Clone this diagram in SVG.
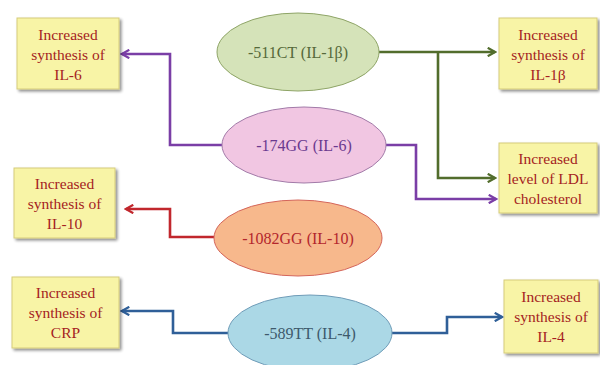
<svg xmlns="http://www.w3.org/2000/svg" width="600" height="365" viewBox="0 0 600 365">
<defs>
<style>
.box{fill:#f8f4a6;stroke:#d6cc7a;stroke-width:1}
.bt{font-family:'Liberation Serif','Times New Roman','DejaVu Serif',serif;font-size:15.5px;fill:#a51d22;text-anchor:middle}
.et{font-family:'Liberation Serif','Times New Roman','DejaVu Serif',serif;font-size:16px;text-anchor:middle}
.c{fill:none;stroke-width:2.6}
</style>
<filter id="sh" x="-10%" y="-10%" width="130%" height="130%">
<feGaussianBlur in="SourceAlpha" stdDeviation="1.5"/>
<feOffset dx="2" dy="2" result="b"/>
<feComponentTransfer><feFuncA type="linear" slope="0.45"/></feComponentTransfer>
<feMerge><feMergeNode/><feMergeNode in="SourceGraphic"/></feMerge>
</filter>
<marker id="ag" viewBox="0 0 10 10" refX="8" refY="5" markerWidth="4" markerHeight="4" orient="auto" markerUnits="strokeWidth"><path d="M1,1 L8,5 L1,9" fill="none" stroke="#526d2c" stroke-width="2.2"/></marker>
<marker id="ap" viewBox="0 0 10 10" refX="8" refY="5" markerWidth="4" markerHeight="4" orient="auto" markerUnits="strokeWidth"><path d="M1,1 L8,5 L1,9" fill="none" stroke="#7a3ea6" stroke-width="2.2"/></marker>
<marker id="ar" viewBox="0 0 10 10" refX="8" refY="5" markerWidth="4" markerHeight="4" orient="auto" markerUnits="strokeWidth"><path d="M1,1 L8,5 L1,9" fill="none" stroke="#c1272d" stroke-width="2.2"/></marker>
<marker id="ab" viewBox="0 0 10 10" refX="8" refY="5" markerWidth="4" markerHeight="4" orient="auto" markerUnits="strokeWidth"><path d="M1,1 L8,5 L1,9" fill="none" stroke="#2f5f98" stroke-width="2.2"/></marker>
</defs>
<rect width="600" height="365" fill="#ffffff"/>

<g id="connectors">
<path class="c" stroke="#526d2c" d="M379,52 H495" marker-end="url(#ag)"/>
<path class="c" stroke="#526d2c" d="M438,52 V178 H495" marker-end="url(#ag)"/>
<path class="c" stroke="#7a3ea6" d="M222,145 H170 V54 H122" marker-end="url(#ap)"/>
<path class="c" stroke="#7a3ea6" d="M386,145 H416 V199 H496" marker-end="url(#ap)"/>
<path class="c" stroke="#c1272d" d="M214,237 H170 V209 H126" marker-end="url(#ar)"/>
<path class="c" stroke="#2f5f98" d="M228,333 H173 V311 H122" marker-end="url(#ab)"/>
<path class="c" stroke="#2f5f98" d="M391,333 H447 V317 H502" marker-end="url(#ab)"/>
</g>

<g id="e511">
<ellipse cx="298" cy="52" rx="81" ry="39" fill="#d5e3b9" stroke="#8ea466" stroke-width="1"/>
<text class="et" x="298" y="58" fill="#55693a" font-family="Liberation Serif, serif">-511CT (IL-1β)</text>
</g>
<g id="e174">
<ellipse cx="304" cy="145" rx="82" ry="38" fill="#f1c6e2" stroke="#a27aa8" stroke-width="1"/>
<text class="et" x="304" y="151" fill="#6b3a8f" font-family="Liberation Serif, serif">-174GG (IL-6)</text>
</g>
<g id="e1082">
<ellipse cx="298" cy="238" rx="84" ry="38" fill="#f7b88c" stroke="#d4655a" stroke-width="1"/>
<text class="et" x="298" y="244" fill="#b3262c" font-family="Liberation Serif, serif">-1082GG (IL-10)</text>
</g>
<g id="e589">
<ellipse cx="310" cy="333" rx="82" ry="38" fill="#abd8e6" stroke="#6f9cb8" stroke-width="1"/>
<text class="et" x="310" y="339" fill="#3e5a6c" font-family="Liberation Serif, serif">-589TT (IL-4)</text>
</g>

<g id="b_il6" font-family="Liberation Serif, serif">
<rect class="box" x="17" y="18" width="102" height="71" filter="url(#sh)"/>
<text class="bt" x="68" y="40">Increased</text>
<text class="bt" x="68" y="60">synthesis of</text>
<text class="bt" x="68" y="80">IL-6</text>
</g>
<g id="b_il1b" font-family="Liberation Serif, serif">
<rect class="box" x="499" y="18" width="98" height="71" filter="url(#sh)"/>
<text class="bt" x="548" y="40">Increased</text>
<text class="bt" x="548" y="60">synthesis of</text>
<text class="bt" x="548" y="80">IL-1β</text>
</g>
<g id="b_ldl" font-family="Liberation Serif, serif">
<rect class="box" x="499" y="143" width="98" height="70" filter="url(#sh)"/>
<text class="bt" x="548" y="164">Increased</text>
<text class="bt" x="548" y="184">level of LDL</text>
<text class="bt" x="548" y="204">cholesterol</text>
</g>
<g id="b_il10" font-family="Liberation Serif, serif">
<rect class="box" x="14" y="168" width="101" height="70" filter="url(#sh)"/>
<text class="bt" x="64.5" y="189">Increased</text>
<text class="bt" x="64.5" y="209">synthesis of</text>
<text class="bt" x="64.5" y="229">IL-10</text>
</g>
<g id="b_crp" font-family="Liberation Serif, serif">
<rect class="box" x="12" y="277" width="107" height="71" filter="url(#sh)"/>
<text class="bt" x="65.5" y="298">Increased</text>
<text class="bt" x="65.5" y="318">synthesis of</text>
<text class="bt" x="65.5" y="338">CRP</text>
</g>
<g id="b_il4" font-family="Liberation Serif, serif">
<rect class="box" x="504" y="280" width="94" height="73" filter="url(#sh)"/>
<text class="bt" x="551" y="302">Increased</text>
<text class="bt" x="551" y="322">synthesis of</text>
<text class="bt" x="551" y="342">IL-4</text>
</g>
</svg>
